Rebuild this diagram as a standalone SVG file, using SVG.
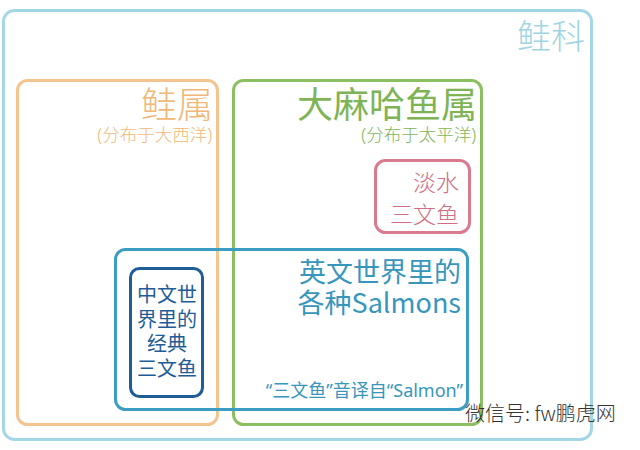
<svg xmlns="http://www.w3.org/2000/svg" width="640" height="450" viewBox="0 0 640 450">
<style>
text{font-family:"Noto Sans CJK SC","Noto Sans",sans-serif;font-weight:400;}
.lt{font-weight:300;}
.lat{font-family:"Noto Sans","Noto Sans CJK SC",sans-serif;}
.box{fill:none;stroke-width:3;}
.r{text-anchor:end;}
</style>
<rect width="640" height="450" fill="#ffffff"/>
<g id="family">
<rect class="box" x="3.5" y="10.5" width="588" height="429" rx="11" stroke="#a3d7e6"/>
<text class="r lt" x="585" y="49" font-size="34" fill="#9fd4e4">鲑科</text>
</g>
<g id="salmo">
<rect class="box" x="17.5" y="80.5" width="200" height="344" rx="10" stroke="#f4c48f"/>
<text class="r lt" x="213" y="118" font-size="36" fill="#f0b878">鲑属</text>
<text class="r lt lat" x="212" y="141" font-size="17.5" fill="#f0b878">(分布于大西洋)</text>
</g>
<g id="oncorhynchus">
<rect class="box" x="233.5" y="80.5" width="248" height="344" rx="10" stroke="#8cbf60"/>
<text class="r" x="477" y="118" font-size="36" fill="#7fb456">大麻哈鱼属</text>
<text class="r lt lat" x="476" y="141" font-size="17.5" fill="#7fb456">(分布于太平洋)</text>
</g>
<g id="freshwater">
<rect class="box" x="375.5" y="160.5" width="94" height="72" rx="10" stroke="#d97a8e"/>
<text class="r lt" x="459" y="191" font-size="23" fill="#d06f85">淡水</text>
<text class="r lt" x="459" y="223" font-size="23" fill="#d06f85">三文鱼</text>
</g>
<g id="salmons">
<rect class="box" x="115.5" y="249.5" width="352" height="160" rx="10" stroke="#3b9cc4"/>
<text class="r" x="461" y="282" font-size="27" fill="#3896bd">英文世界里的</text>
<text class="r" x="461" y="313" font-size="27" fill="#3896bd">各种Salmons</text>
<text class="r lat" x="463" y="397" font-size="18" fill="#3896bd">“三文鱼”音译自“Salmon”</text>
</g>
<g id="chinese">
<rect class="box" x="130.5" y="268.5" width="72" height="128" rx="9" stroke="#1f5d96" stroke-width="3.5"/>
<text x="167" y="302" font-size="20" fill="#1f5d96" text-anchor="middle">中文世</text>
<text x="167" y="327" font-size="20" fill="#1f5d96" text-anchor="middle">界里的</text>
<text x="167" y="351" font-size="20" fill="#1f5d96" text-anchor="middle">经典</text>
<text x="167" y="376" font-size="20" fill="#1f5d96" text-anchor="middle">三文鱼</text>
</g>
<g id="connectors"></g>
<g id="watermark">
<text class="lt" x="465" y="421" font-size="20" fill="#333333">微信号: fw鹏虎网</text>
</g>
</svg>
